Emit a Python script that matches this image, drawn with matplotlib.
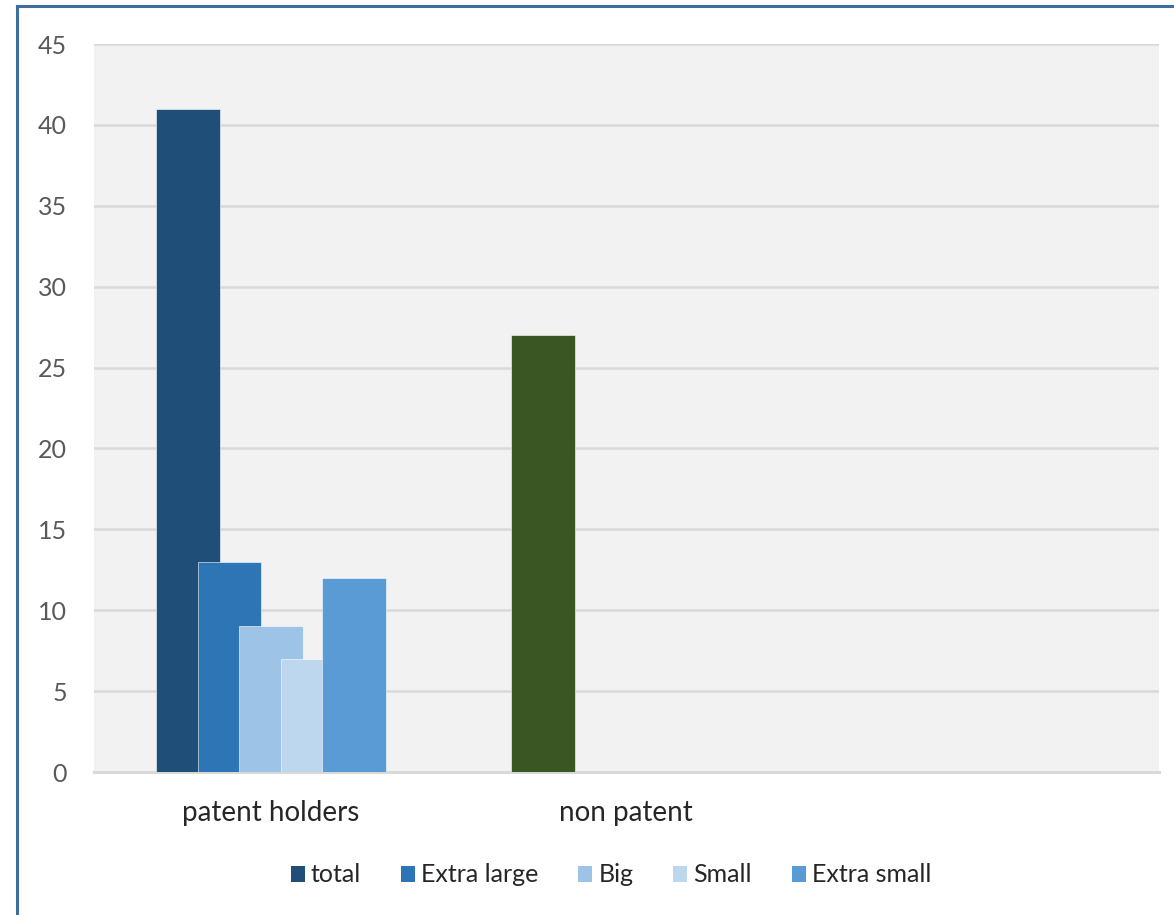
import numpy as np
import matplotlib
matplotlib.use("Agg")
import matplotlib.pyplot as plt
from matplotlib.lines import Line2D
from matplotlib.patches import Patch

plt.rcParams['font.family'] = ['Lato', 'DejaVu Sans']

categories = ["patent holders", "non patent", ""]
series = ["total", "Extra large", "Big", "Small", "Extra small"]
total = [41, 27, 0]
extra_large = [13, 0, 0]
big = [9, 0, 0]
small = [7, 0, 0]
extra_small = [12, 0, 0]
colors = ["#1f4e79", "#2e75b6", "#9dc3e6", "#bdd7ee", "#5b9bd5"]
nonpatent_color = "#3a5723"

values = [total, extra_large, big, small, extra_small]

fig = plt.figure(figsize=(11.74, 9.15), dpi=100)
ax = fig.add_axes([93.5 / 1174, 1 - 772 / 915, (1159 - 93.5) / 1174, (772 - 44) / 915])
ax.set_facecolor("#f2f2f2")

# overlapping clustered bars
x = np.arange(len(categories))
w = 0.18
step = 0.117
start = -(w + step * (len(series) - 1)) / 2 + w / 2
for i, (name, vals) in enumerate(zip(series, values)):
    bars = ax.bar(x + start + i * step, vals, width=w, color=colors[i],
                  edgecolor="#ffffff", linewidth=0.4, zorder=3 + i, label=name)
    if name == "total":
        bars[1].set_facecolor(nonpatent_color)

ax.set_xlim(-0.5, 2.5)
ax.set_ylim(0, 45)
ax.set_yticks(range(0, 46, 5))
ax.set_xticks(x)
ax.set_xticklabels(categories)
ax.grid(axis="y", color="#d9d9d9", linewidth=1.8, zorder=1)
for s in ax.spines.values():
    s.set_visible(False)
ax.axhline(0, color="#d9d9d9", linewidth=2.2, zorder=2, clip_on=False)
ax.tick_params(axis="y", length=0, pad=19, labelsize=18, labelcolor="#595959")
ax.tick_params(axis="x", length=0, pad=20, labelsize=20, labelcolor="#262626")

handles = [Patch(facecolor=c, edgecolor="none") for c in colors]
leg = fig.legend(handles, series, loc="center", bbox_to_anchor=(611 / 1174, 1 - 875 / 915),
                 ncol=5, frameon=False, fontsize=18, handlelength=0.55, handleheight=0.6,
                 handletextpad=0.25, columnspacing=1.6)
for t in leg.get_texts():
    t.set_color("#262626")

# frame lines along left and top edge
fig.add_artist(Line2D([17 / 1174, 17 / 1174], [0, 1 - 6 / 915], color="#3f6d9e", lw=2.2,
                      transform=fig.transFigure))
fig.add_artist(Line2D([17 / 1174, 1], [1 - 6 / 915, 1 - 6 / 915], color="#3f6d9e", lw=2.2,
                      transform=fig.transFigure))

fig.savefig("out.png", dpi=100, facecolor="white")
